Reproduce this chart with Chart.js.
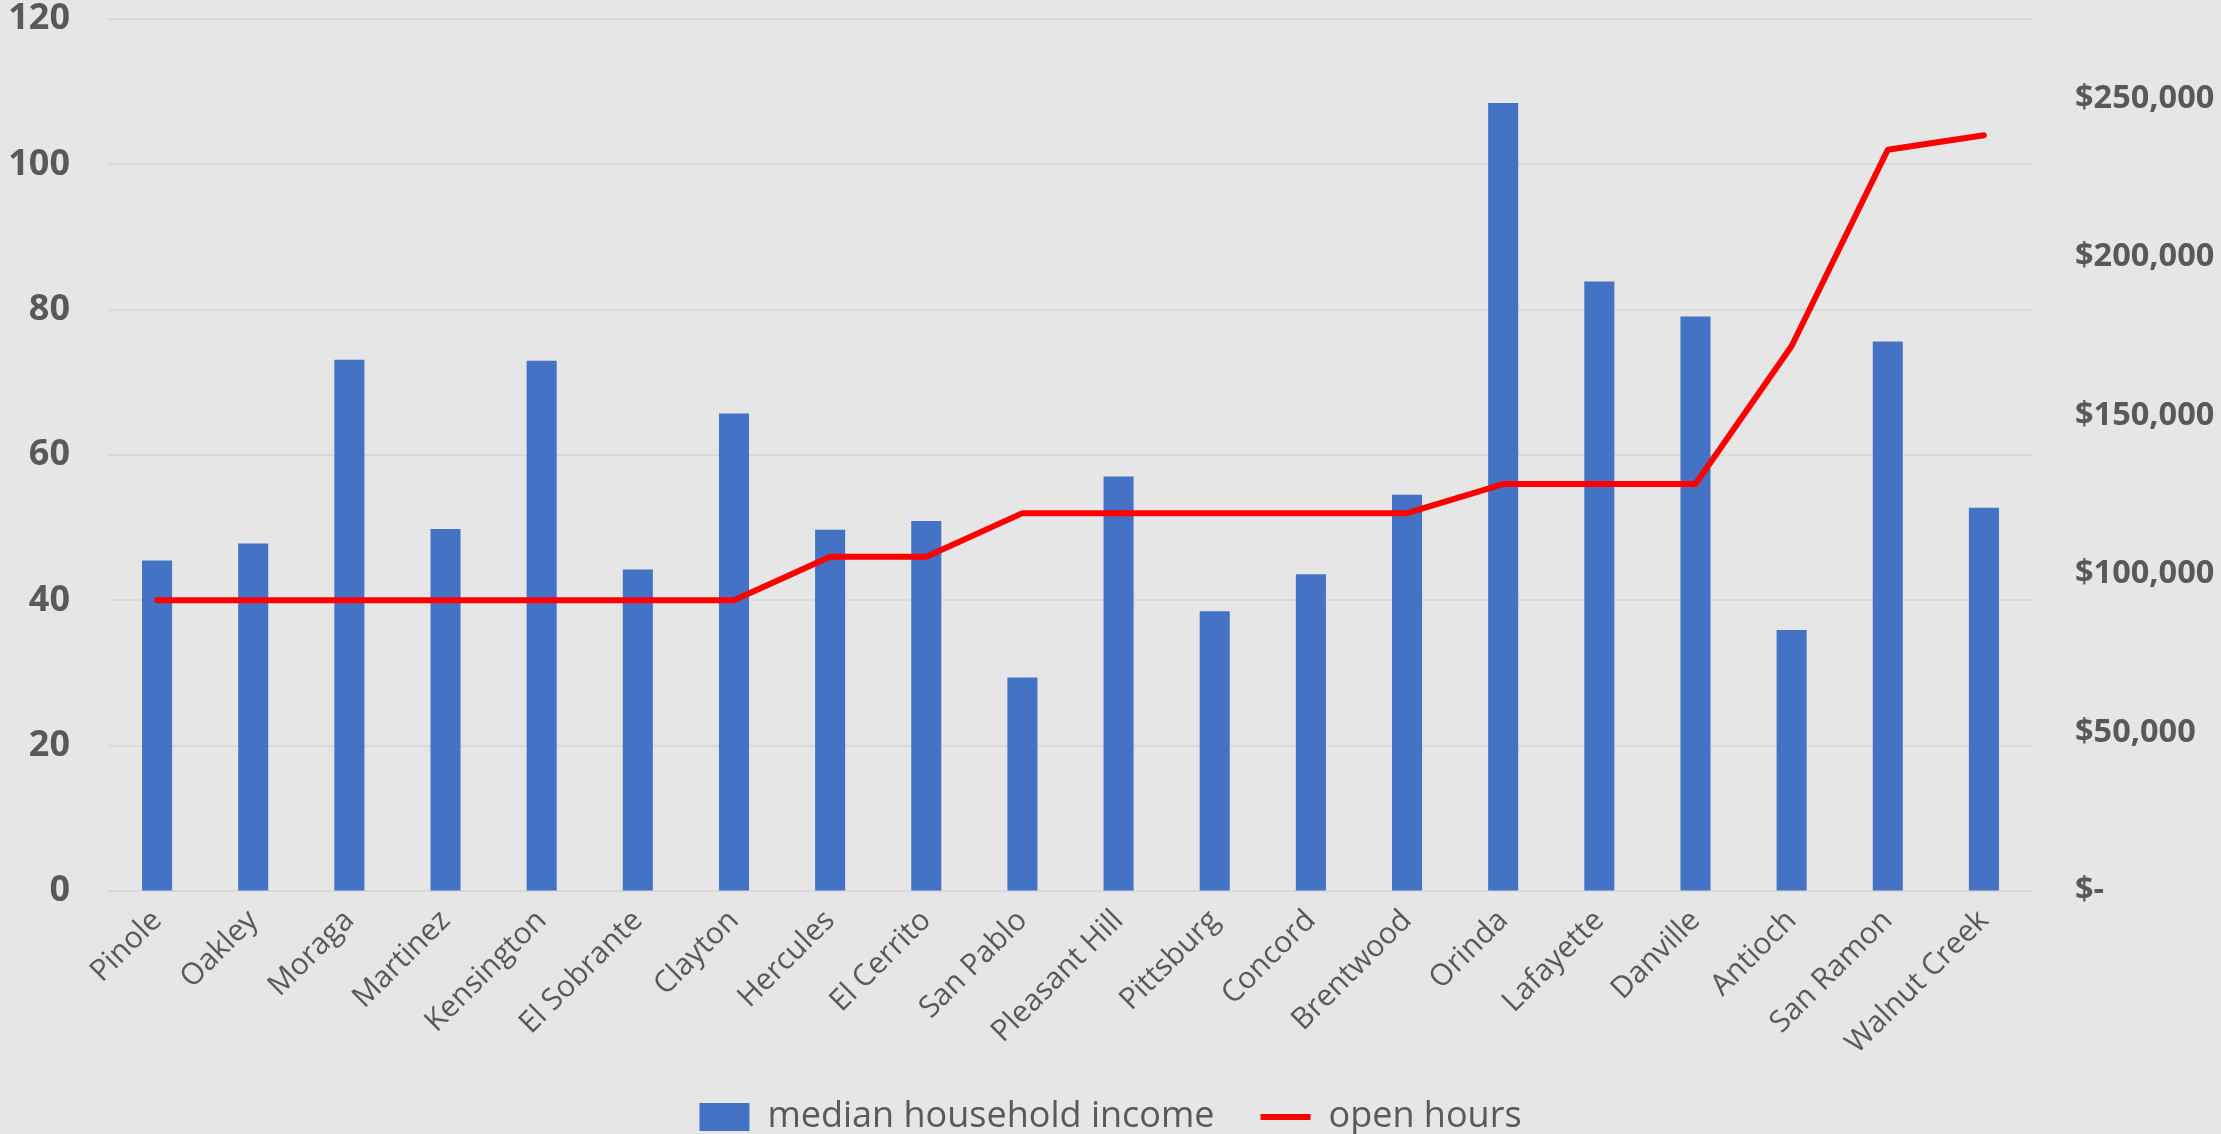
<!DOCTYPE html>
<html>
<head>
<meta charset="utf-8">
<script src="https://cdn.jsdelivr.net/npm/chart.js@4/dist/chart.umd.min.js"></script>
<style>
    html, body { margin: 0; padding: 0; background: #e6e6e6; }
    #wrap { width: 2221px; height: 1134px; position: relative; }
</style>
</head>
<body>
<div id="wrap"><canvas id="myChart"></canvas></div>
<script>
const cities = [
    'Pinole', 'Oakley', 'Moraga', 'Martinez', 'Kensington',
    'El Sobrante', 'Clayton', 'Hercules', 'El Cerrito', 'San Pablo',
    'Pleasant Hill', 'Pittsburg', 'Concord', 'Brentwood', 'Orinda',
    'Lafayette', 'Danville', 'Antioch', 'San Ramon', 'Walnut Creek'
];
const medianIncome = [
    104200, 109600, 167500, 114200, 167200,
    101400, 150600, 113900, 116700, 67300,
    130700, 88200, 99900, 125000, 248500,
    192200, 181200, 82300, 173300, 120900
];
const openHours = [
    40, 40, 40, 40, 40,
    40, 40, 46, 46, 52,
    52, 52, 52, 52, 56,
    56, 56, 75, 102, 104
];
const hoursTicks = [0, 20, 40, 60, 80, 100, 120];
const incomeTicks = [0, 50000, 100000, 150000, 200000, 250000];

window.addEventListener('DOMContentLoaded', () => {
    const grey = '#595959';
    const family = "'Open Sans', sans-serif";
    const clear = 'rgba(0,0,0,0)';

    const data = {
        labels: cities,
        datasets: [{
            type: 'bar',
            label: 'median household income',
            data: medianIncome,
            yAxisID: 'income',
            backgroundColor: '#4472c4',
            borderWidth: 0,
            categoryPercentage: 1,
            barPercentage: 0.3125,
            order: 2
        }, {
            type: 'line',
            label: 'open hours',
            data: openHours,
            yAxisID: 'hours',
            borderColor: '#ff0000',
            backgroundColor: '#ff0000',
            borderWidth: 6,
            borderCapStyle: 'round',
            borderJoinStyle: 'round',
            pointRadius: 0,
            tension: 0,
            fill: false,
            order: 1
        }]
    };

    const options = {
        responsive: true,
        maintainAspectRatio: false,
        animation: false,
        layout: { padding: { top: 19, bottom: 0, left: 0, right: 0 } },
        scales: {
            x: {
                grid: { display: false, drawTicks: false },
                border: { display: true, color: '#d9d9d9', width: 2 },
                ticks: {
                    autoSkip: false,
                    maxRotation: 45,
                    minRotation: 45,
                    padding: 12,
                    color: grey,
                    font: { family: family, size: 30 }
                },
                afterFit: (scale) => { scale.height = 162; }
            },
            hours: {
                position: 'left',
                min: hoursTicks[0],
                max: hoursTicks[hoursTicks.length - 1],
                afterBuildTicks: (scale) => {
                    scale.ticks = hoursTicks.map(v => ({ value: v }));
                },
                // tick marks are invisible, their length only pushes the labels out
                grid: { color: '#d9d9d9', lineWidth: 2, drawTicks: true, tickLength: 38, tickColor: clear },
                border: { display: false },
                ticks: {
                    padding: 1,
                    color: grey,
                    font: { family: family, size: 36, weight: 'bold', lineHeight: 1 }
                },
                afterFit: (scale) => { scale.width = 109; }
            },
            income: {
                position: 'right',
                min: 0,
                max: 275000,
                afterBuildTicks: (scale) => {
                    scale.ticks = incomeTicks.map(v => ({ value: v }));
                },
                grid: { drawOnChartArea: false, drawTicks: true, tickLength: 42, color: clear, tickColor: clear },
                border: { display: false },
                ticks: {
                    padding: 1,
                    color: grey,
                    font: { family: family, size: 32.5, weight: 'bold', lineHeight: 1 },
                    callback: (v) => v === 0 ? '$-' : '$' + v.toLocaleString('en-US')
                },
                afterFit: (scale) => { scale.width = 189; }
            }
        },
        plugins: {
            tooltip: { enabled: false },
            legend: {
                position: 'bottom',
                maxHeight: 81,
                labels: {
                    usePointStyle: true,
                    pointStyleWidth: 50,
                    boxHeight: 28,
                    padding: 46,
                    color: grey,
                    font: { family: family, size: 36 },
                    sort: (a, b) => a.datasetIndex - b.datasetIndex,
                    generateLabels: (chart) => {
                        const items = Chart.defaults.plugins.legend.labels.generateLabels(chart);
                        items.forEach(it => {
                            it.pointStyle = chart.data.datasets[it.datasetIndex].type === 'line' ? 'line' : 'rect';
                        });
                        return items;
                    }
                }
            }
        }
    };

    const config = {
        data: data,
        options: options
    };

    const myChart = new Chart(
        document.getElementById('myChart'),
        config
    );
});
</script>
</body>
</html>
